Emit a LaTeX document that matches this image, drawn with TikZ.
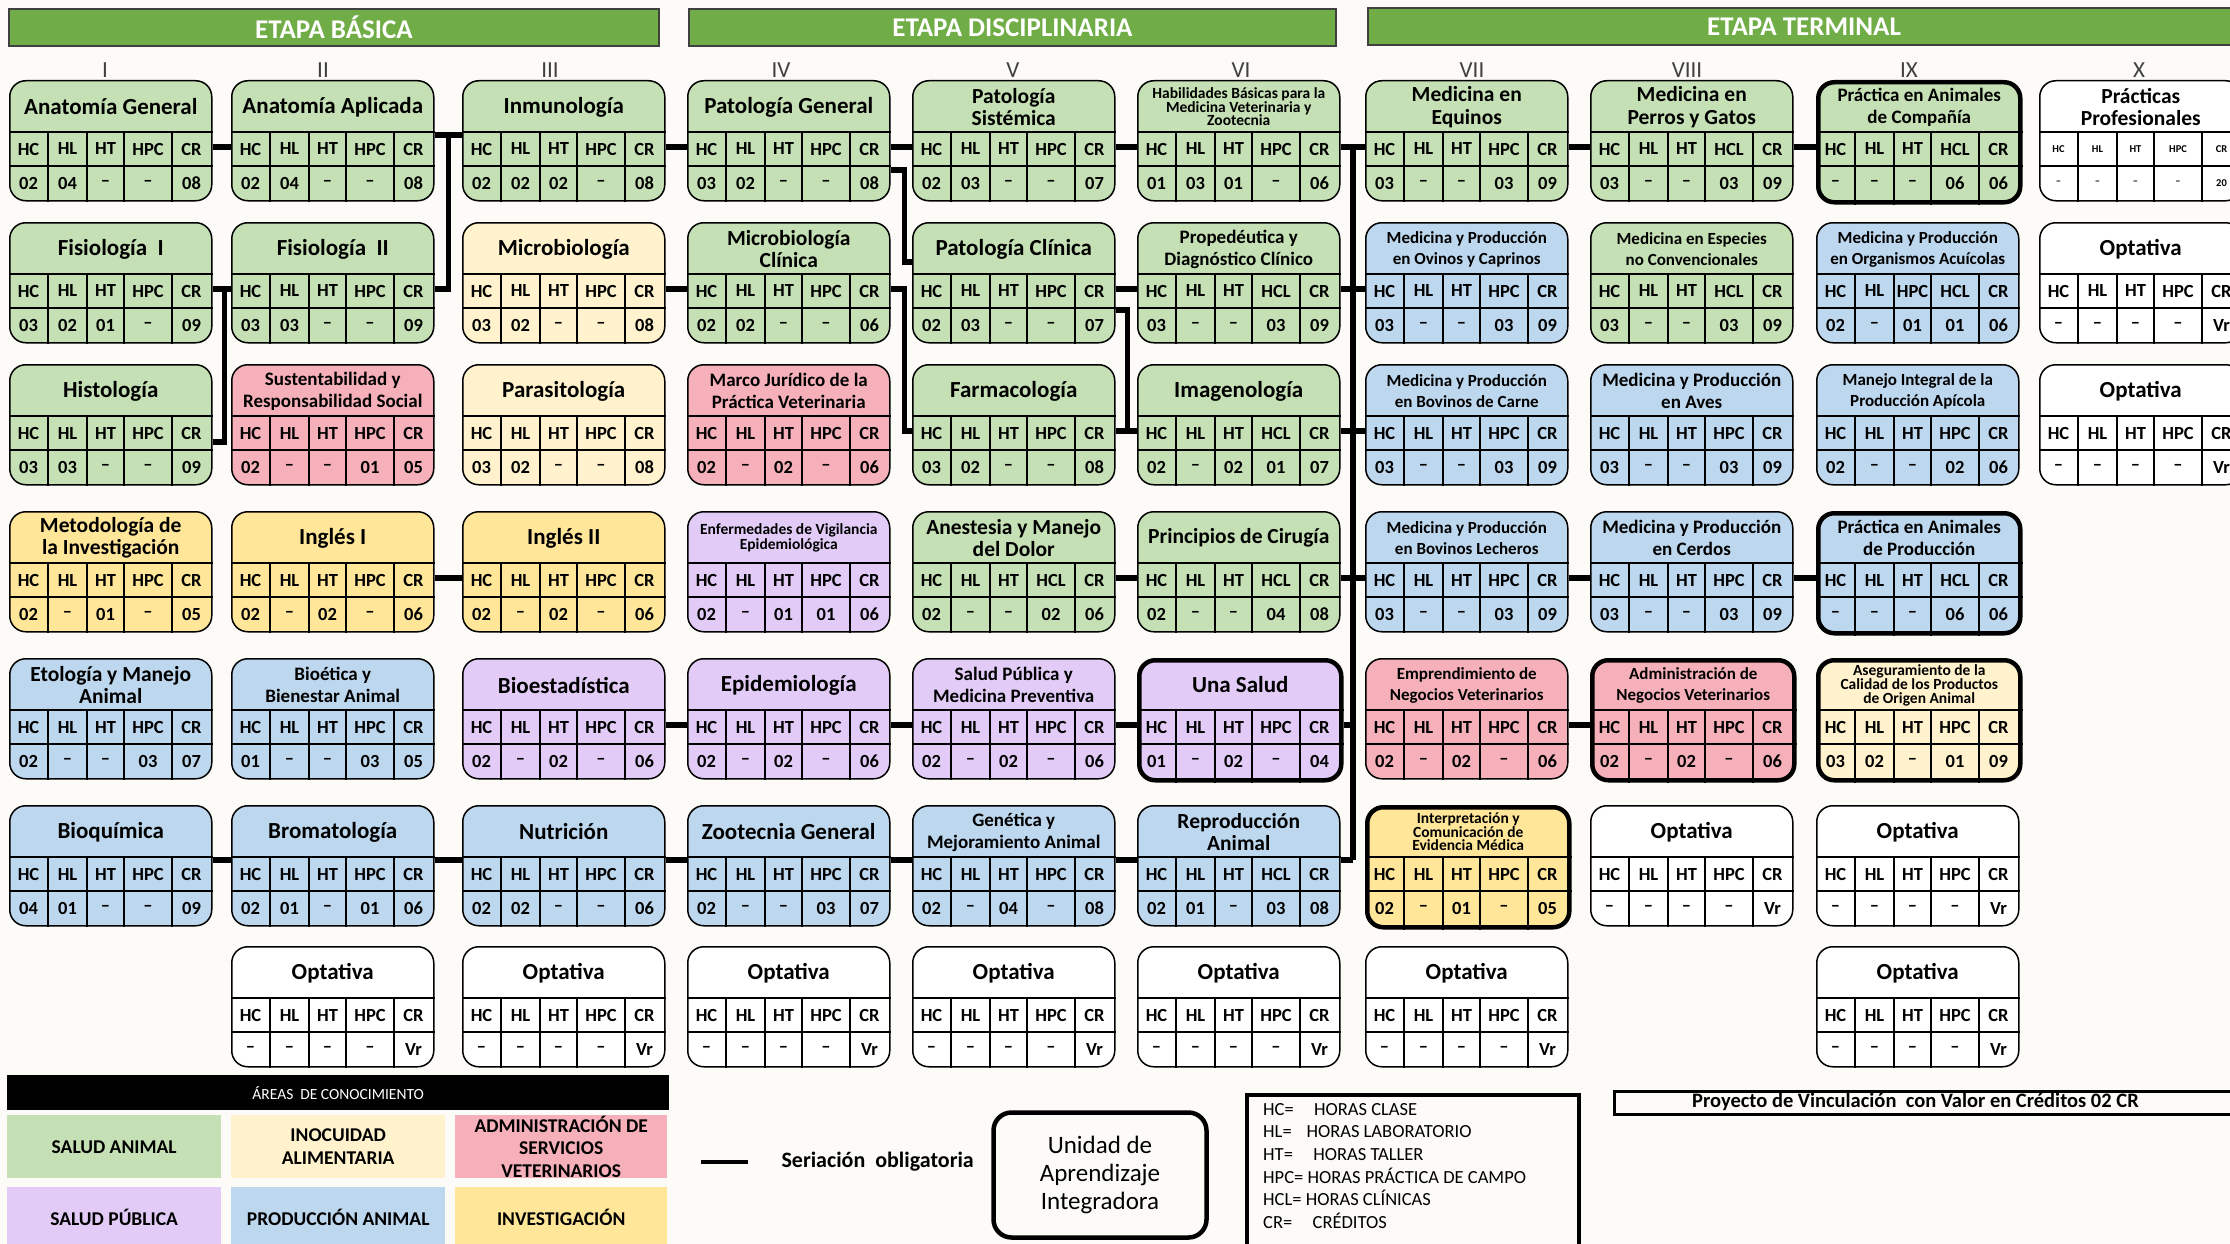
\documentclass[tikz,border=0pt]{standalone}
\usepackage{fontspec}
\setmainfont{Carlito}
\usetikzlibrary{calc}

\definecolor{fondo}{HTML}{FCFBF7}
\definecolor{verde}{HTML}{C5E0B4}
\definecolor{crema}{HTML}{FFF2CC}
\definecolor{rosa}{HTML}{F5B0B9}
\definecolor{lila}{HTML}{E2CCF7}
\definecolor{azul}{HTML}{BDD7EE}
\definecolor{amarillo}{HTML}{FFE699}
\definecolor{verdeetapa}{HTML}{70AD47}

\newcommand{\tA}{\fontsize{23}{24}\selectfont}
\newcommand{\tB}{\fontsize{21.5}{22.5}\selectfont}
\newcommand{\tC}{\fontsize{19}{22}\selectfont}
\newcommand{\tD}{\fontsize{17}{21}\selectfont}
\newcommand{\tE}{\fontsize{15.5}{13.5}\selectfont}
\newcommand{\encfont}{\fontsize{18.5}{19}\selectfont\bfseries}
\newcommand{\hpc}{HC,HL,HT,HPC,CR}
\newcommand{\hcl}{HC,HL,HT,HCL,CR}
\newcommand{\hacui}{HC,HL,HPC,HCL,CR}

\tikzstyle{materia} = [rectangle, draw, rounded corners=16pt, line width=1.5pt,
  minimum width=202pt, minimum height=120pt, inner sep=0pt, anchor=north west]
\tikzstyle{integradora} = [line width=4.5pt]
\tikzstyle{celda} = [line width=1.2pt]
\tikzstyle{titulo} = [align=center, inner sep=0pt]
\tikzstyle{enc} = [font=\encfont, inner sep=0pt]
\tikzstyle{serie} = [line width=5.5pt]
\tikzstyle{banda} = [fill=verdeetapa, draw=black!75, line width=1.5pt, text=white,
  font=\bfseries\fontsize{27}{28}\selectfont, minimum height=37pt, inner sep=0pt]
\tikzstyle{numeral} = [anchor=base, text=black!75, font=\fontsize{23}{24}\selectfont]
\tikzstyle{areabox} = [anchor=north west, minimum width=214pt, inner sep=0pt,
  align=center, font=\bfseries\fontsize{19.5}{22.5}\selectfont]

% #1 estilo extra, #2 nombre, #3 esquina, #4 color, #5 tamano, #6 titulo, #7 encabezados, #8 valores
\newcommand{\materia}[8][]{%
  \node[materia, fill=#4, #1] (#2) at (#3) {};
  \draw[celda] ([yshift=-52pt]#2.north west) -- ([yshift=-52pt]#2.north east)
    ([yshift=-86pt]#2.north west) -- ([yshift=-86pt]#2.north east);
  \foreach \dx in {39,78,115,163}
    \draw[celda] ([xshift=\dx, yshift=-52pt]#2.north west) -- ([xshift=\dx]#2.south west);
  \node[titulo, font=\bfseries#5] at ([yshift=-27pt]#2.north) {#6};
  \edef\lista{#7}
  \foreach \txt [count=\k] in \lista {
    \pgfmathsetmacro\cx{{19.5,58.5,96.5,139,182.5}[\k-1]}
    \node[enc] at ([xshift=\cx, yshift=-69pt]#2.north west) {\txt};
  }
  \foreach \txt [count=\k] in {#8} {
    \pgfmathsetmacro\cx{{19.5,58.5,96.5,139,182.5}[\k-1]}
    \node[enc] at ([xshift=\cx, yshift=-103pt]#2.north west) {\txt};
  }
  \coordinate (#2-t) at ([yshift=-55pt]#2.north);
  \coordinate (#2-h) at ([yshift=-67pt]#2.north);
}

\begin{document}
\begin{tikzpicture}[x=1pt, y=-1pt]
\useasboundingbox (0,0) rectangle (2230,1244);
\fill[fondo] (0,0) rectangle (2230,1244);

\node[banda, minimum width=650pt] (basica) at (334,27.5) {ETAPA BÁSICA};
\node[banda, minimum width=647pt] (disciplinaria) at (1012.5,27.5) {ETAPA DISCIPLINARIA};
\node[banda, minimum width=872pt] (terminal) at (1804,26.5) {ETAPA TERMINAL};

\foreach \nr/\nx in {I/105, II/323, III/550, IV/781, V/1013, VI/1241, VII/1472, VIII/1687, IX/1909, X/2139}
  \node[numeral] (sem\nr) at (\nx,78) {\nr};

% I
\materia{ag}{9,80}{verde}{\tA}{Anatomía General}{\hpc}{02,04,--,--,08}
\materia{f1}{9,222}{verde}{\tA}{Fisiología~ I}{\hpc}{03,02,01,--,09}
\materia{hist}{9,364}{verde}{\tA}{Histología}{\hpc}{03,03,--,--,09}
\materia{met}{9,511}{amarillo}{\tB}{Metodología de\\la Investigación}{\hpc}{02,--,01,--,05}
\materia{eto}{9,658}{azul}{\tB}{Etología y Manejo\\Animal}{\hpc}{02,--,--,03,07}
\materia{bioq}{9,805}{azul}{\tA}{Bioquímica}{\hpc}{04,01,--,--,09}

% II
\materia{aa}{231,80}{verde}{\tA}{Anatomía Aplicada}{\hpc}{02,04,--,--,08}
\materia{f2}{231,222}{verde}{\tA}{Fisiología~ II}{\hpc}{03,03,--,--,09}
\materia{sust}{231,364}{rosa}{\tC}{Sustentabilidad y\\Responsabilidad Social}{\hpc}{02,--,--,01,05}
\materia{ing1}{231,511}{amarillo}{\tA}{Inglés I}{\hpc}{02,--,02,--,06}
\materia{bioe}{231,658}{azul}{\tC}{Bioética y\\Bienestar Animal}{\hpc}{01,--,--,03,05}
\materia{brom}{231,805}{azul}{\tA}{Bromatología}{\hpc}{02,01,--,01,06}
\materia{opt2}{231,946}{white}{\tA}{Optativa}{\hpc}{--,--,--,--,Vr}

% III
\materia{inm}{462,80}{verde}{\tA}{Inmunología}{\hpc}{02,02,02,--,08}
\materia{mic}{462,222}{crema}{\tA}{Microbiología}{\hpc}{03,02,--,--,08}
\materia{para}{462,364}{crema}{\tA}{Parasitología}{\hpc}{03,02,--,--,08}
\materia{ing2}{462,511}{amarillo}{\tA}{Inglés II}{\hpc}{02,--,02,--,06}
\materia{bioest}{462,658}{lila}{\tA}{Bioestadística}{\hpc}{02,--,02,--,06}
\materia{nutr}{462,805}{azul}{\tA}{Nutrición}{\hpc}{02,02,--,--,06}
\materia{opt3}{462,946}{white}{\tA}{Optativa}{\hpc}{--,--,--,--,Vr}

% IV
\materia{pg}{687,80}{verde}{\tA}{Patología General}{\hpc}{03,02,--,--,08}
\materia{mclin}{687,222}{verde}{\tB}{Microbiología\\Clínica}{\hpc}{02,02,--,--,06}
\materia{marco}{687,364}{rosa}{\tC}{Marco Jurídico de la\\Práctica Veterinaria}{\hpc}{02,--,02,--,06}
\materia{enf}{687,511}{lila}{\tE}{Enfermedades de Vigilancia\\Epidemiológica}{\hpc}{02,--,01,01,06}
\materia{epid}{687,658}{lila}{\tA}{Epidemiología}{\hpc}{02,--,02,--,06}
\materia{zoo}{687,805}{azul}{\tA}{Zootecnia General}{\hpc}{02,--,--,03,07}
\materia{opt4}{687,946}{white}{\tA}{Optativa}{\hpc}{--,--,--,--,Vr}

% V
\materia{ps}{912,80}{verde}{\tB}{Patología\\Sistémica}{\hpc}{02,03,--,--,07}
\materia{pc}{912,222}{verde}{\tA}{Patología Clínica}{\hpc}{02,03,--,--,07}
\materia{farm}{912,364}{verde}{\tA}{Farmacología}{\hpc}{03,02,--,--,08}
\materia{anest}{912,511}{verde}{\tB}{Anestesia y Manejo\\del Dolor}{\hcl}{02,--,--,02,06}
\materia{sp}{912,658}{lila}{\tC}{Salud Pública y\\Medicina Preventiva}{\hpc}{02,--,02,--,06}
\materia{gen}{912,805}{azul}{\tC}{Genética y\\Mejoramiento Animal}{\hpc}{02,--,04,--,08}
\materia{opt5}{912,946}{white}{\tA}{Optativa}{\hpc}{--,--,--,--,Vr}

% VI
\materia{hab}{1137,80}{verde}{\tE}{Habilidades Básicas para la\\Medicina Veterinaria y\\Zootecnia}{\hpc}{01,03,01,--,06}
\materia{prop}{1137,222}{verde}{\tC}{Propedéutica y\\Diagnóstico Clínico}{\hcl}{03,--,--,03,09}
\materia{img}{1137,364}{verde}{\tA}{Imagenología}{\hcl}{02,--,02,01,07}
\materia{cir}{1137,511}{verde}{\tB}{Principios de Cirugía}{\hcl}{02,--,--,04,08}
\materia[integradora]{una}{1137,658}{lila}{\tA}{Una Salud}{\hpc}{01,--,02,--,04}
\materia{rep}{1137,805}{azul}{\tB}{Reproducción\\Animal}{\hcl}{02,01,--,03,08}
\materia{opt6}{1137,946}{white}{\tA}{Optativa}{\hpc}{--,--,--,--,Vr}

% VII
\materia{equ}{1365,80}{verde}{\tB}{Medicina en\\Equinos}{\hpc}{03,--,--,03,09}
\materia{ovi}{1365,222}{azul}{\tD}{Medicina y Producción\\en Ovinos y Caprinos}{\hpc}{03,--,--,03,09}
\materia{bcar}{1365,364}{azul}{\tD}{Medicina y Producción\\en Bovinos de Carne}{\hpc}{03,--,--,03,09}
\materia{blech}{1365,511}{azul}{\tD}{Medicina y Producción\\en Bovinos Lecheros}{\hpc}{03,--,--,03,09}
\materia{empr}{1365,658}{rosa}{\tD}{Emprendimiento de\\Negocios Veterinarios}{\hpc}{02,--,02,--,06}
\materia[integradora]{interp}{1365,805}{amarillo}{\tE}{Interpretación y\\Comunicación de\\Evidencia Médica}{\hpc}{02,--,01,--,05}
\materia{opt7}{1365,946}{white}{\tA}{Optativa}{\hpc}{--,--,--,--,Vr}

% VIII
\materia{perros}{1590,80}{verde}{\tB}{Medicina en\\Perros y Gatos}{\hcl}{03,--,--,03,09}
\materia{esp}{1590,222}{verde}{\tD}{Medicina en Especies\\no Convencionales}{\hcl}{03,--,--,03,09}
\materia{aves}{1590,364}{azul}{\tC}{Medicina y Producción\\en Aves}{\hpc}{03,--,--,03,09}
\materia{cerdos}{1590,511}{azul}{\tC}{Medicina y Producción\\en Cerdos}{\hpc}{03,--,--,03,09}
\materia[integradora]{admin}{1590,658}{rosa}{\tD}{Administración de\\Negocios Veterinarios}{\hpc}{02,--,02,--,06}
\materia{opt8}{1590,805}{white}{\tA}{Optativa}{\hpc}{--,--,--,--,Vr}

% IX
\materia[integradora]{pac}{1816,80}{verde}{\tC}{Práctica en Animales\\de Compañía}{\hcl}{--,--,--,06,06}
\materia{acui}{1816,222}{azul}{\tD}{Medicina y Producción\\en Organismos Acuícolas}{\hacui}{02,--,01,01,06}
\materia{api}{1816,364}{azul}{\tD}{Manejo Integral de la\\Producción Apícola}{\hpc}{02,--,--,02,06}
\materia[integradora]{pap}{1816,511}{azul}{\tC}{Práctica en Animales\\de Producción}{\hcl}{--,--,--,06,06}
\materia[integradora]{aseg}{1816,658}{crema}{\tE}{Aseguramiento de la\\Calidad de los Productos\\de Origen Animal}{\hpc}{03,02,--,01,09}
\materia{opt9a}{1816,805}{white}{\tA}{Optativa}{\hpc}{--,--,--,--,Vr}
\materia{opt9b}{1816,946}{white}{\tA}{Optativa}{\hpc}{--,--,--,--,Vr}

% X
{\renewcommand{\encfont}{\fontsize{10.5}{11}\selectfont\bfseries}
\materia{pprof}{2039,80}{white}{\tB}{Prácticas\\Profesionales}{\hpc}{--,--,--,--,20}}
\materia{opt10a}{2039,222}{white}{\tA}{Optativa}{\hpc}{--,--,--,--,Vr}
\materia{opt10b}{2039,364}{white}{\tA}{Optativa}{\hpc}{--,--,--,--,Vr}

% seriacion
\draw[serie] (ag.east |- ag-h) -- (aa.west |- ag-h);
\draw[serie] (aa.east |- aa-t) -- (inm.west |- aa-t);
\draw[serie] (f2.east |- f2-h) -- ++(14,0) |- (inm.west |- aa-t);
\draw[serie] (f1.east |- f1-h) -- (f2.west |- f1-h);
\draw[serie] ([yshift=-78pt]hist.north east) -- ++(12,0) |- (f2.west |- f1-h);
\draw[serie] (inm.east |- inm-h) -- (pg.west |- inm-h);
\draw[serie] (pg.east |- pg-h) -- (ps.west |- pg-h);
\draw[serie] ([yshift=-90pt]pg.north east) -- ++(14,0) |- ([yshift=-40pt]pc.north west);
\draw[serie] (mic.east |- mic-h) -- (mclin.west |- mic-h);
\draw[serie] (mclin.east |- mclin-h) -- ++(14,0) |- (farm.west |- farm-h);
\draw[serie] (ps.east |- ps-h) -- (hab.west |- ps-h);
\draw[serie] (pc.east |- pc-h) -- (prop.west |- pc-h);
\draw[serie] ([yshift=-88pt]pc.north east) -- ++(12,0) |- (img.west |- farm-h);
\draw[serie] (farm.east |- farm-h) -- (img.west |- farm-h);
\draw[serie] (anest.east |- anest-h) -- (cir.west |- anest-h);
\draw[serie] (ing1.east |- ing1-h) -- (ing2.west |- ing1-h);
\draw[serie] (bioest.east |- bioest-h) -- (epid.west |- bioest-h);
\draw[serie] (epid.east |- epid-h) -- (sp.west |- epid-h);
\draw[serie] (sp.east |- sp-h) -- (una.west |- sp-h);
\draw[serie] (bioq.east |- bioq-t) -- (brom.west |- bioq-t);
\draw[serie] (brom.east |- brom-t) -- (nutr.west |- brom-t);
\draw[serie] (nutr.east |- nutr-t) -- (zoo.west |- nutr-t);
\draw[serie] (zoo.east |- zoo-t) -- (gen.west |- zoo-t);
\draw[serie] (gen.east |- gen-t) -- (rep.west |- gen-t);
\coordinate (eje) at ($(hab.east)!.5!(equ.west)$);
\draw[serie] (hab.east |- hab-h) -- (equ.west |- hab-h);
\draw[serie] (eje |- hab-h) -- (eje |- rep-t);
\draw[serie] (prop.east |- prop-h) -- (ovi.west |- prop-h);
\draw[serie] (img.east |- img-h) -- (bcar.west |- img-h);
\draw[serie] (cir.east |- cir-h) -- (blech.west |- cir-h);
\draw[serie] (una.east |- una-h) -- (eje |- una-h);
\draw[serie] (rep.east |- rep-t) -- (eje |- rep-t);
\draw[serie] (equ.east |- equ-h) -- (perros.west |- equ-h);
\draw[serie] (perros.east |- perros-h) -- (pac.west |- perros-h);
\draw[serie] (blech.east |- blech-h) -- (cerdos.west |- blech-h);
\draw[serie] (cerdos.east |- cerdos-h) -- (pap.west |- cerdos-h);
\draw[serie] (empr.east |- empr-h) -- (admin.west |- empr-h);

% leyenda
\node[anchor=north west, fill=black, text=white, minimum width=662pt, minimum height=35pt,
  inner sep=0pt, font=\fontsize{15.5}{16}\selectfont] (areas) at (7,1075) {ÁREAS\ \ DE CONOCIMIENTO};
\node[areabox, fill=verde, minimum height=63pt] (lsa) at (7,1115) {SALUD ANIMAL};
\node[areabox, fill=crema, minimum height=63pt] (lia) at (231,1115) {INOCUIDAD\\ALIMENTARIA};
\node[areabox, fill=rosa, minimum height=63pt, minimum width=212pt] (las) at (455,1115) {ADMINISTRACIÓN DE\\SERVICIOS\\VETERINARIOS};
\node[areabox, fill=lila, minimum height=60pt] (lsp) at (7,1187) {SALUD PÚBLICA};
\node[areabox, fill=azul, minimum height=60pt] (lpa) at (231,1187) {PRODUCCIÓN ANIMAL};
\node[areabox, fill=amarillo, minimum height=60pt, minimum width=212pt] (lin) at (455,1187) {INVESTIGACIÓN};

\coordinate (lser) at (701,1162);
\node[anchor=west, font=\bfseries\fontsize{22}{24}\selectfont] (tser) at (778,1162) {Seriación~ obligatoria};
\draw[line width=3.5pt] (lser) -- ++(47,0);

\node[draw, line width=4.5pt, rounded corners=18pt, minimum width=213pt, minimum height=125pt,
  align=center, font=\fontsize{25}{28}\selectfont] (uai) at (1100,1175) {Unidad de\\Aprendizaje\\Integradora};

\node[draw, line width=4pt, anchor=north west, minimum width=332pt, minimum height=170pt] (abrev) at (1245,1093) {};
\node[anchor=north west, align=left, inner sep=0pt, font=\fontsize{18.5}{22.6}\selectfont] (abrevtxt) at (1263,1103)
  {HC=\hspace{1.1em}HORAS CLASE\\HL=\hspace{0.8em}HORAS LABORATORIO\\HT=\hspace{1.1em}HORAS TALLER\\
   HPC= HORAS PRÁCTICA DE CAMPO\\HCL= HORAS CLÍNICAS\\CR=\hspace{1.1em}CRÉDITOS};

\node[draw, line width=3pt, anchor=north west, minimum width=630pt, minimum height=23pt, inner sep=0pt] (proy) at (1613,1090) {};
\node[anchor=west, inner sep=0pt, font=\bfseries\fontsize{20.5}{21}\selectfont] (proytxt) at (1692,1101.5)
  {Proyecto de Vinculación~ con Valor en Créditos 02 CR};
\end{tikzpicture}
\end{document}
